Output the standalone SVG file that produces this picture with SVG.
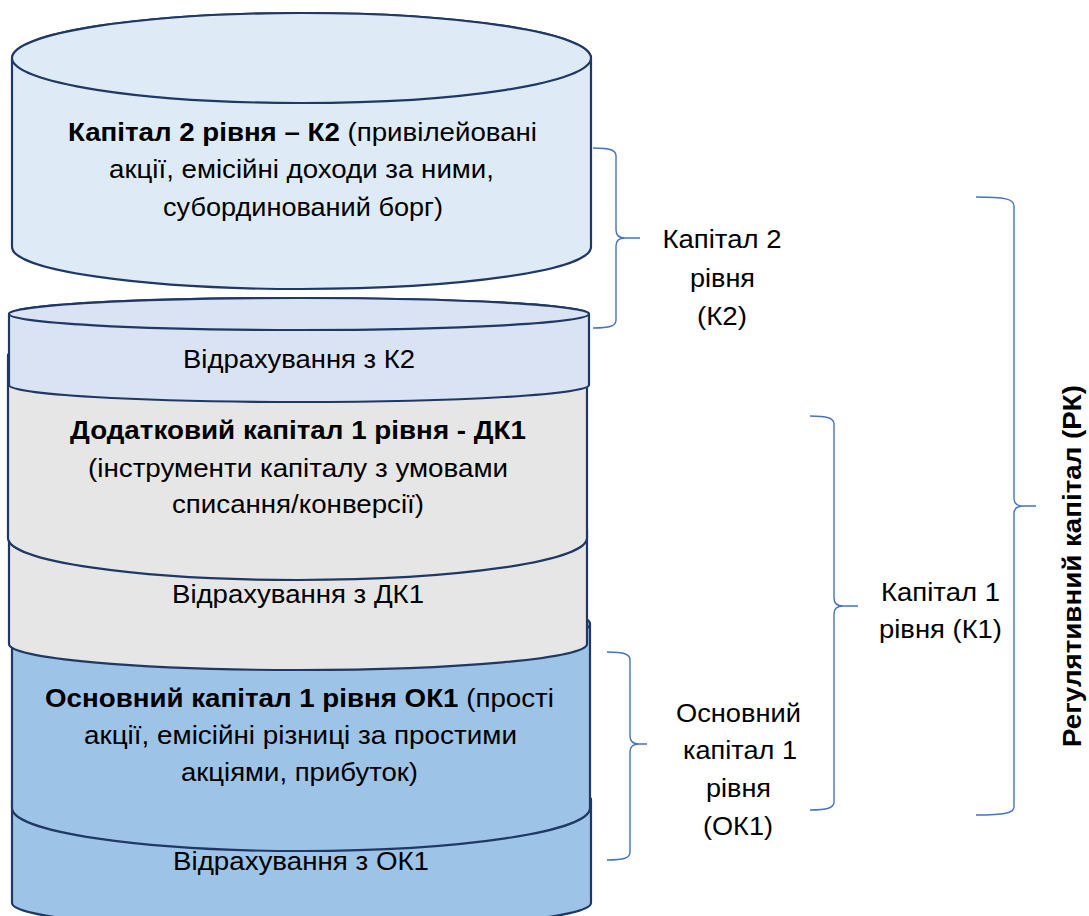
<svg xmlns="http://www.w3.org/2000/svg" width="1089" height="916" viewBox="0 0 1089 916">
<style>
.can{stroke:#1f3864;stroke-width:2.2;stroke-linejoin:round}
.k2{fill:#deebf7}
.k2d{fill:#dae3f3}
.grey{fill:#e6e6e6}
.blue{fill:#9dc3e6}
text{font-family:"Liberation Sans",Arial,sans-serif;font-size:26px;fill:#000;text-anchor:middle}
.b{font-weight:bold}
.brace{fill:none;stroke:#4472c4;stroke-width:1.4}
</style>
<rect width="1089" height="916" fill="#fff"/>

<g id="ok1-deductions">
<path class="can blue" d="M12,800 L12,903 A289.5,27 0 0 0 591,903 L591,800 A289.5,27 0 0 0 12,800 Z"/>
<ellipse class="can blue" cx="301.5" cy="800" rx="289.5" ry="27"/>
</g>
<g id="ok1">
<path class="can blue" d="M12,624 L12,808 A289,43 0 0 0 590,808 L590,624 A289,30 0 0 0 12,624 Z"/>
<ellipse class="can blue" cx="301" cy="624" rx="289" ry="30"/>
</g>
<g id="dk1-deductions">
<path class="can grey" d="M9,530 L9,644 A289,26 0 0 0 587,644 L587,530 A289,26 0 0 0 9,530 Z"/>
<ellipse class="can grey" cx="298" cy="530" rx="289" ry="26"/>
</g>
<g id="dk1">
<path class="can grey" d="M8,356 L8,538 A289.5,42 0 0 0 587,538 L587,356 A289.5,30 0 0 0 8,356 Z"/>
<ellipse class="can grey" cx="297.5" cy="356" rx="289.5" ry="30"/>
</g>
<g id="k2-deductions">
<path class="can k2d" d="M9,314 L9,385 A290,17 0 0 0 589,385 L589,314 A290,16 0 0 0 9,314 Z"/>
<ellipse class="can k2d" cx="299" cy="314" rx="290" ry="16"/>
</g>
<g id="k2">
<path class="can k2" d="M12,58 L12,247 A289.5,42 0 0 0 591,247 L591,58 A289.5,45 0 0 0 12,58 Z"/>
<ellipse class="can k2" cx="301.5" cy="58" rx="289.5" ry="45"/>
</g>

<g id="texts-k2">
<text x="302.5" y="141" textLength="469" lengthAdjust="spacingAndGlyphs"><tspan class="b">Капітал 2 рівня – К2</tspan> (привілейовані</text>
<text x="301.5" y="178" textLength="385" lengthAdjust="spacingAndGlyphs">акції, емісійні доходи за ними,</text>
<text x="303" y="216" textLength="280" lengthAdjust="spacingAndGlyphs">субординований борг)</text>
</g>
<g id="texts-k2d">
<text x="299" y="368" textLength="232" lengthAdjust="spacingAndGlyphs">Відрахування з К2</text>
</g>
<g id="texts-dk1">
<text class="b" x="298" y="439" textLength="456" lengthAdjust="spacingAndGlyphs">Додатковий капітал 1 рівня - ДК1</text>
<text x="298" y="477" textLength="420" lengthAdjust="spacingAndGlyphs">(інструменти капіталу з умовами</text>
<text x="298" y="513" textLength="252" lengthAdjust="spacingAndGlyphs">списання/конверсії)</text>
</g>
<g id="texts-dk1d">
<text x="298" y="603" textLength="252" lengthAdjust="spacingAndGlyphs">Відрахування з ДК1</text>
</g>
<g id="texts-ok1">
<text x="299.5" y="707" textLength="509" lengthAdjust="spacingAndGlyphs"><tspan class="b">Основний капітал 1 рівня ОК1</tspan> (прості</text>
<text x="300.5" y="744" textLength="433" lengthAdjust="spacingAndGlyphs">акції, емісійні різниці за простими</text>
<text x="299.5" y="781" textLength="237" lengthAdjust="spacingAndGlyphs">акціями, прибуток)</text>
</g>
<g id="texts-ok1d">
<text x="301" y="870" textLength="256" lengthAdjust="spacingAndGlyphs">Відрахування з ОК1</text>
</g>

<g id="connectors">
<path class="brace" d="M593,148 C610,148 616,150 616,156 L616,230 C616,235 619,238 625,238 L640,238 M625,238 C619,238 616,241 616,246 L616,320 C616,326 610,328 593,328"/>
<path class="brace" d="M810,416 C827,416 834,418 834,424 L834,598 C834,603 837,606 843,606 L858,606 M843,606 C837,606 834,609 834,614 L834,802 C834,808 827,810 810,810"/>
<path class="brace" d="M976,197 C1005,197 1014,199 1014,206 L1014,498 C1014,503 1017,506 1023,506 L1036,506 M1023,506 C1017,506 1014,509 1014,514 L1014,807 C1014,813 1005,815 976,815"/>
<path class="brace" d="M607,652 C624,652 630,654 630,660 L630,736 C630,741 633,744 639,744 L647,744 M639,744 C633,744 630,747 630,752 L630,852 C630,858 624,860 607,860"/>
</g>

<g id="label-k2">
<text x="722" y="248" textLength="119" lengthAdjust="spacingAndGlyphs">Капітал 2</text>
<text x="722.5" y="287" textLength="65" lengthAdjust="spacingAndGlyphs">рівня</text>
<text x="722" y="325" textLength="50" lengthAdjust="spacingAndGlyphs">(К2)</text>
</g>
<g id="label-k1">
<text x="940.5" y="601" textLength="119" lengthAdjust="spacingAndGlyphs">Капітал 1</text>
<text x="940.5" y="638" textLength="123" lengthAdjust="spacingAndGlyphs">рівня (К1)</text>
</g>
<g id="label-ok1">
<text x="738.5" y="722" textLength="125" lengthAdjust="spacingAndGlyphs">Основний</text>
<text x="740" y="759" textLength="114" lengthAdjust="spacingAndGlyphs">капітал 1</text>
<text x="738.5" y="797" textLength="65" lengthAdjust="spacingAndGlyphs">рівня</text>
<text x="738" y="835" textLength="70" lengthAdjust="spacingAndGlyphs">(ОК1)</text>
</g>
<g id="label-rk">
<text class="b" transform="translate(1081,566) rotate(-90)" x="0" y="0" textLength="362" lengthAdjust="spacingAndGlyphs">Регулятивний капітал (РК)</text>
</g>
</svg>
